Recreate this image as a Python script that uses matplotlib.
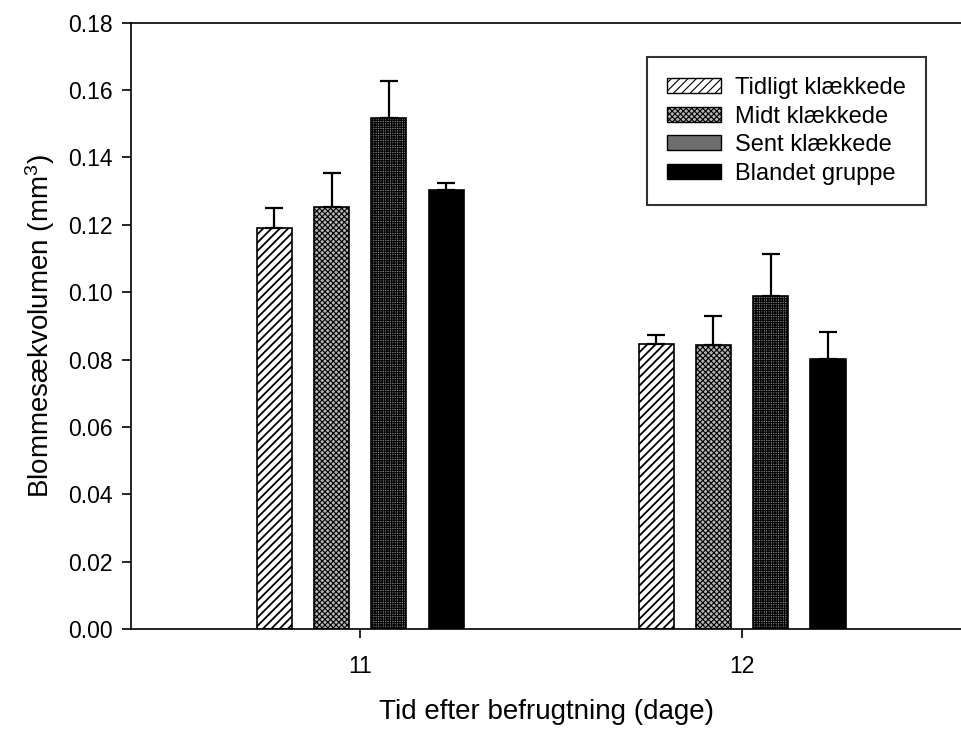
import matplotlib
matplotlib.use("Agg")
import matplotlib.pyplot as plt
import numpy as np
from matplotlib.patches import Patch

plt.rcParams["font.family"] = ["Liberation Sans", "DejaVu Sans"]
plt.rcParams["mathtext.fontset"] = "custom"
plt.rcParams["mathtext.rm"] = "Liberation Sans"
plt.rcParams["mathtext.it"] = "Liberation Sans"
plt.rcParams["hatch.linewidth"] = 0.8

# data
days = [11, 12]
groups = ["Tidligt klækkede", "Midt klækkede", "Sent klækkede", "Blandet gruppe"]
means = {
    "Tidligt klækkede": [0.1189, 0.0845],
    "Midt klækkede": [0.1254, 0.0842],
    "Sent klækkede": [0.1518, 0.0990],
    "Blandet gruppe": [0.1302, 0.0801],
}
errors = {
    "Tidligt klækkede": [0.0060, 0.0027],
    "Midt klækkede": [0.0101, 0.0086],
    "Sent klækkede": [0.0110, 0.0122],
    "Blandet gruppe": [0.0021, 0.0080],
}
y_ticks = [0.00, 0.02, 0.04, 0.06, 0.08, 0.10, 0.12, 0.14, 0.16, 0.18]

# bar looks (SigmaPlot-ish fills)
bar_style = {
    "Tidligt klækkede": dict(facecolor="white", hatch="////"),
    "Midt klækkede": dict(facecolor="#b4b4b4", hatch="xxxxxx"),
    "Sent klækkede": dict(facecolor="#8a8a8a", hatch="+++++++"),
    "Blandet gruppe": dict(facecolor="black", hatch=None),
}
legend_style = {
    "Tidligt klækkede": dict(facecolor="white", hatch="////"),
    "Midt klækkede": dict(facecolor="#b4b4b4", hatch="xxxxxx"),
    "Sent klækkede": dict(facecolor="#6e6e6e", hatch=None),
    "Blandet gruppe": dict(facecolor="black", hatch=None),
}
hatch_lw = {
    "Tidligt klækkede": 1.3,
    "Midt klækkede": 0.8,
    "Sent klækkede": 0.8,
    "Blandet gruppe": 0.8,
}

fig = plt.figure(figsize=(9.62, 7.29), dpi=100)
ax = fig.add_axes([0.1362, 0.1372, 0.8638, 0.8317])

x = np.array(days, dtype=float)
width = 0.092
step = 0.150
offsets = (np.arange(len(groups)) - 1.5) * step

for i, g in enumerate(groups):
    pos = x + offsets[i]
    with plt.rc_context({"hatch.linewidth": hatch_lw[g]}):
        ax.bar(pos, means[g], width=width, edgecolor="black", linewidth=1.2,
               zorder=2, **bar_style[g])
    ax.errorbar(pos, means[g], yerr=[np.zeros(len(days)), errors[g]],
                fmt="none", ecolor="black", elinewidth=1.6, capsize=6.5,
                capthick=1.6, zorder=3)

ax.set_xlim(10.40, 12.576)
ax.set_ylim(0, 0.18)
ax.set_xticks(days)
ax.set_xticklabels([str(d) for d in days])
ax.set_yticks(y_ticks)
ax.set_yticklabels([f"{v:.2f}" for v in y_ticks])

ax.spines["right"].set_visible(False)
for s in ["left", "bottom", "top"]:
    ax.spines[s].set_linewidth(1.2)
ax.tick_params(axis="both", direction="out", length=6.5, width=1.2,
               labelsize=16.5, pad=7)
ax.tick_params(axis="x", pad=12)

ax.set_xlabel("Tid efter befrugtning (dage)", fontsize=20, labelpad=15)
ax.set_ylabel("Blommesækvolumen (mm$^3$)", fontsize=20, labelpad=8)

handles = []
for g in groups:
    with plt.rc_context({"hatch.linewidth": hatch_lw[g]}):
        handles.append(Patch(edgecolor="black", linewidth=1.0, label=g,
                             **legend_style[g]))
leg = ax.legend(handles=handles, loc="upper right",
                bbox_to_anchor=(0.9567, 0.9434), borderaxespad=0,
                fontsize=17, fancybox=False, frameon=True,
                handlelength=2.3, handleheight=0.6, handletextpad=0.6,
                labelspacing=0.28, borderpad=0.85)
leg.get_frame().set_edgecolor("black")
leg.get_frame().set_linewidth(1.5)

fig.savefig("out.png", dpi=100)
